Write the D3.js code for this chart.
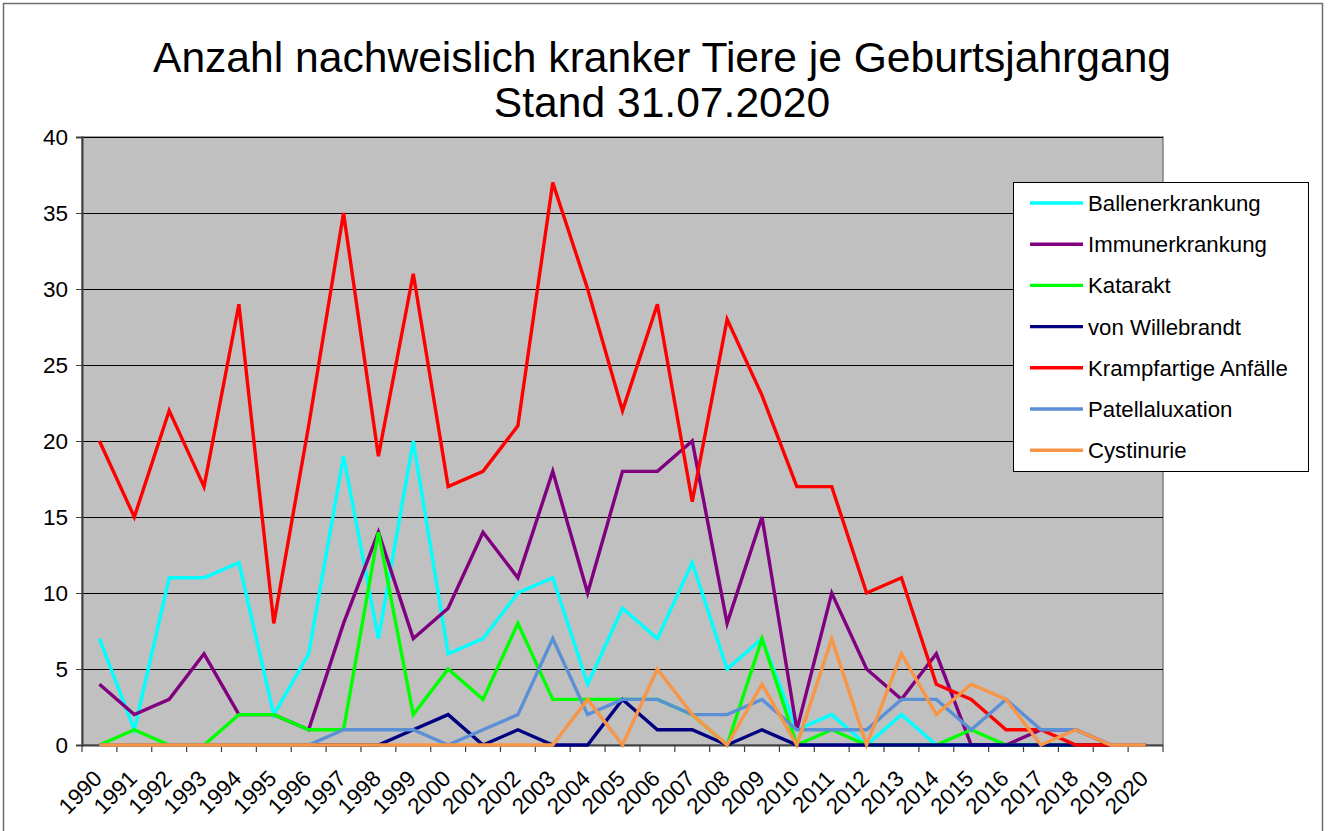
<!DOCTYPE html>
<html>
<head>
<meta charset="utf-8">
<script src="https://cdnjs.cloudflare.com/ajax/libs/d3/7.8.5/d3.min.js"></script>
<style>
  body { margin: 0; background: #fff; }
  svg { display: block; font-family: "Liberation Sans", Arial, sans-serif; }
</style>
</head>
<body>
<svg id="chart" width="1328" height="831"></svg>
<script>
// --- data ---
const years = ["1990","1991","1992","1993","1994","1995","1996","1997","1998","1999",
  "2000","2001","2002","2003","2004","2005","2006","2007","2008","2009",
  "2010","2011","2012","2013","2014","2015","2016","2017","2018","2019","2020"]

const ballenerkrankung = [7,1,11,11,12,2,6,19,7,20,6,7,10,11,4,9,7,12,5,7,1,2,0,2,0,0,0,0,0,0,0]
const immunerkrankung  = [4,2,3,6,2,2,1,8,14,7,9,14,11,18,10,18,18,20,8,15,1,10,5,3,6,0,0,1,1,0,0]
const katarakt         = [0,1,0,0,2,2,1,1,14,2,5,3,8,3,3,3,3,2,0,7,0,1,0,0,0,1,0,0,0,0,0]
const willebrandt      = [0,0,0,0,0,0,0,0,0,1,2,0,1,0,0,3,1,1,0,1,0,0,0,0,0,0,0,0,0,0,0]
const krampf           = [20,15,22,17,29,8,21,35,19,31,17,18,21,37,30,22,29,16,28,23,17,17,10,11,4,3,1,1,0,0,0]
const patella          = [0,0,0,0,0,0,0,1,1,1,0,1,2,7,2,3,3,2,2,3,1,1,1,3,3,1,3,1,1,0,0]
const cystinurie       = [0,0,0,0,0,0,0,0,0,0,0,0,0,0,3,0,5,2,0,4,0,7,0,6,2,4,3,0,1,0,0]

const seriesNames = ["Ballenerkrankung","Immunerkrankung","Katarakt","von Willebrandt",
  "Krampfartige Anfälle","Patellaluxation","Cystinurie"]
const seriesValues = [ballenerkrankung, immunerkrankung, katarakt, willebrandt, krampf, patella, cystinurie]
const seriesColors = ["#00ffff","#800080","#00ff00","#000080","#ff0000","#5b8fd6","#f79646"]

const yTicks = [0,5,10,15,20,25,30,35,40]
const titleLines = ["Anzahl nachweislich kranker Tiere je Geburtsjahrgang", "Stand 31.07.2020"]

// --- layout ---
const plot = { left: 82, right: 1163, top: 137, bottom: 745 }

const svg = d3.select("#chart")

// outer chart frame
svg.append("rect")
  .attr("x", 3.5).attr("y", 3.5)
  .attr("width", 1319).attr("height", 860)
  .attr("fill", "#fff")
  .attr("stroke", "#6e6e6e")
  .attr("stroke-width", 1.5)

// title
svg.append("g").selectAll("text")
  .data(titleLines)
  .enter().append("text")
  .attr("x", 662)
  .attr("y", (d, i) => 72 + i * 45)
  .attr("text-anchor", "middle")
  .attr("font-size", 42.6)
  .attr("fill", "#000")
  .text(d => d)

const x = d3.scaleBand()
  .domain(years)
  .range([plot.left, plot.right])
  .paddingInner(0).paddingOuter(0)

const y = d3.scaleLinear()
  .domain([0, 40])
  .range([plot.bottom, plot.top])

// plot background
svg.append("rect")
  .attr("x", plot.left).attr("y", plot.top)
  .attr("width", plot.right - plot.left).attr("height", plot.bottom - plot.top)
  .attr("fill", "#c0c0c0")
  .attr("stroke", "#808080")
  .attr("stroke-width", 1.5)

// gridlines
svg.append("g").selectAll("line")
  .data(yTicks.filter(d => d > 0))
  .enter().append("line")
  .attr("x1", plot.left).attr("x2", plot.right)
  .attr("y1", d => Math.round(y(d)) + 0.5).attr("y2", d => Math.round(y(d)) + 0.5)
  .attr("stroke", "#000")
  .attr("stroke-width", 1)

// y axis
const yAxis = svg.append("g")
  .attr("transform", `translate(${plot.left},0)`)
  .call(d3.axisLeft(y).tickValues(yTicks).tickSize(6).tickPadding(8).tickFormat(d3.format("d")))
yAxis.select(".domain").attr("stroke", "#404040").attr("stroke-width", 2)
yAxis.selectAll(".tick line").attr("stroke", "#404040")
yAxis.selectAll("text").attr("font-size", 22.5).attr("fill", "#000")
  .attr("font-family", "'Liberation Sans', Arial, sans-serif")

// x axis: ticks at category boundaries, labels rotated at centres
const xg = svg.append("g")
xg.append("line")
  .attr("x1", plot.left).attr("x2", plot.right)
  .attr("y1", plot.bottom + 0.5).attr("y2", plot.bottom + 0.5)
  .attr("stroke", "#404040").attr("stroke-width", 2)
xg.selectAll("line.tk")
  .data(years.concat(["end"]))
  .enter().append("line")
  .attr("class", "tk")
  .attr("x1", d => d === "end" ? plot.right : x(d))
  .attr("x2", d => d === "end" ? plot.right : x(d))
  .attr("y1", plot.bottom).attr("y2", plot.bottom + 7)
  .attr("stroke", "#404040").attr("stroke-width", 1.2)
xg.selectAll("text")
  .data(years)
  .enter().append("text")
  .attr("transform", d => `translate(${x(d) + x.bandwidth() / 2 + 4},${plot.bottom + 35}) rotate(-45)`)
  .attr("text-anchor", "end")
  .attr("font-size", 22.5)
  .attr("fill", "#000")
  .text(d => d)

// lines
const line = d3.line()
  .x((d, i) => x(years[i]) + x.bandwidth() / 2)
  .y(d => y(d))

svg.append("g").selectAll("path")
  .data(seriesValues)
  .enter().append("path")
  .attr("d", d => line(d))
  .attr("fill", "none")
  .attr("stroke", (d, i) => seriesColors[i])
  .attr("stroke-width", 3.4)
  .attr("stroke-linejoin", "miter")

// legend
const legend = svg.append("g").attr("transform", "translate(1013,182)")
legend.append("rect")
  .attr("x", 0.5).attr("y", 0.5)
  .attr("width", 295).attr("height", 289)
  .attr("fill", "#fff")
  .attr("stroke", "#000")
  .attr("stroke-width", 1)

const items = legend.selectAll("g.item")
  .data(seriesNames)
  .enter().append("g")
  .attr("class", "item")
  .attr("transform", (d, i) => `translate(0,${21 + i * 41.2})`)
items.append("line")
  .attr("x1", 17).attr("x2", 70)
  .attr("y1", 0).attr("y2", 0)
  .attr("stroke", (d, i) => seriesColors[i])
  .attr("stroke-width", 3.4)
items.append("text")
  .attr("x", 75).attr("y", 8)
  .attr("font-size", 22.2)
  .attr("fill", "#000")
  .text(d => d)
</script>
</body>
</html>
